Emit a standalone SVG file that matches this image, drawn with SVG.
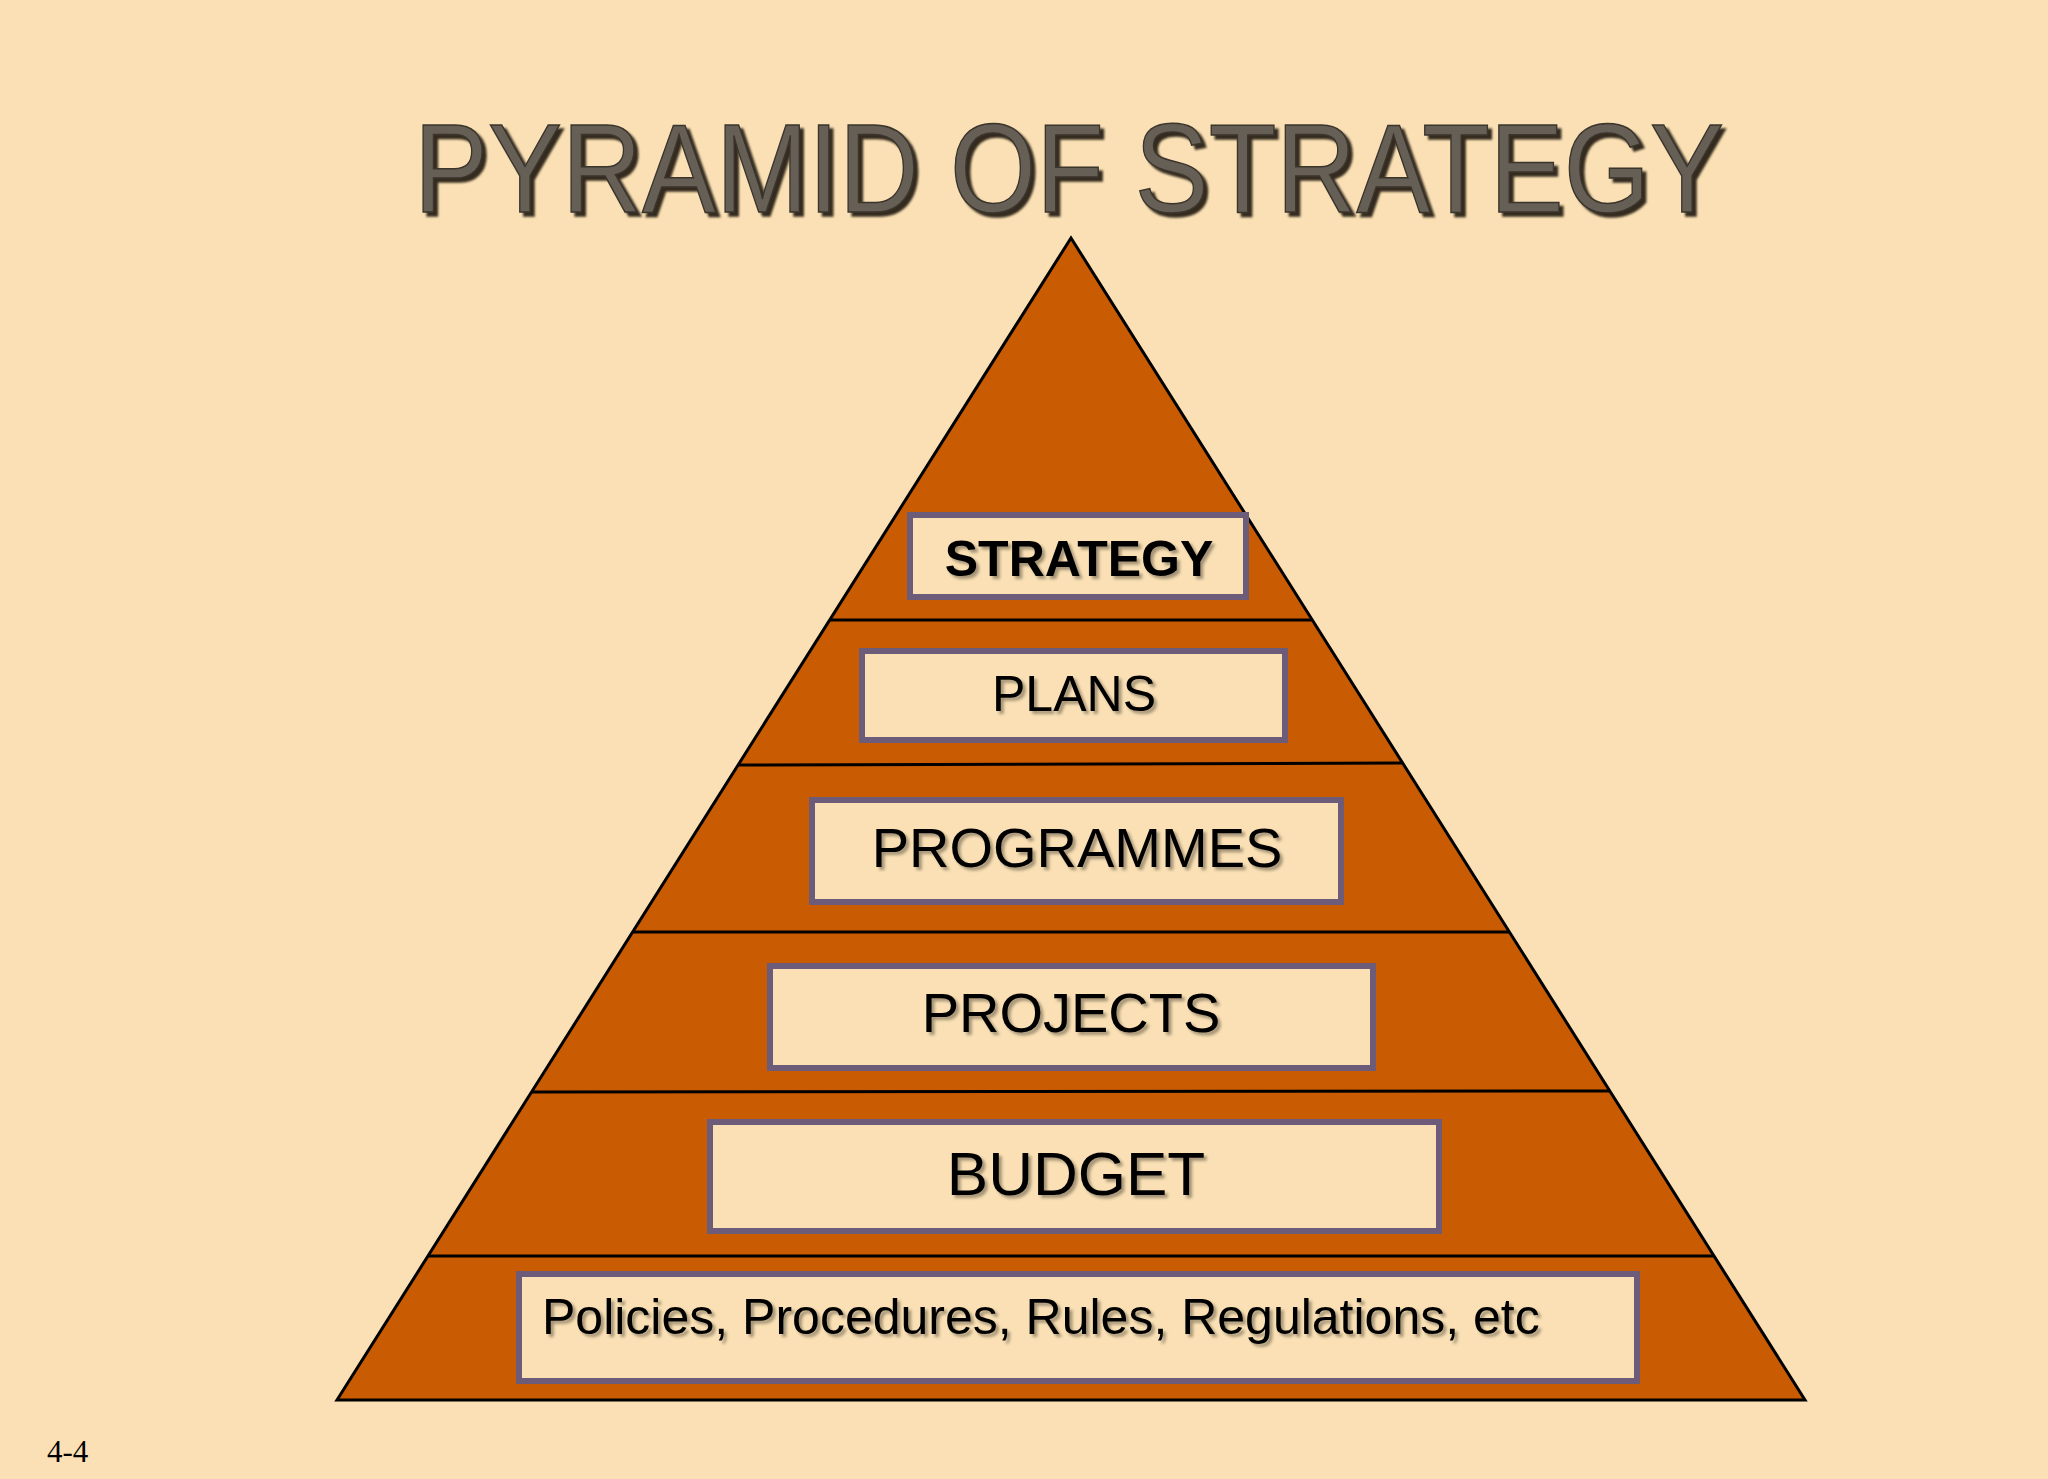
<svg xmlns="http://www.w3.org/2000/svg" width="2048" height="1479" viewBox="0 0 2048 1479">
  <style>
    .box { fill: #fae0b4; stroke: #6c5b79; stroke-width: 6; }
    .lbl { font-family: "Liberation Sans", Arial, sans-serif; fill: #000000; filter: url(#txtShadow); }
    .div { stroke: #000000; stroke-width: 3; fill: none; }
  </style>
  <defs>
    <filter id="txtShadow" x="-10%" y="-30%" width="120%" height="160%">
      <feDropShadow dx="3" dy="3" stdDeviation="1.5" flood-color="#000000" flood-opacity="0.35"/>
    </filter>
    <filter id="titleShadow" x="-5%" y="-20%" width="110%" height="150%">
      <feDropShadow dx="4" dy="4" stdDeviation="1.2" flood-color="#1a150f" flood-opacity="0.9"/>
    </filter>
  </defs>
  <rect x="0" y="0" width="2048" height="1479" fill="#fae0b4"/>

  <g id="title">
    <text x="414" y="212" font-family="'Liberation Sans', Arial, sans-serif" font-size="126" fill="#665f57" stroke="#3a342c" stroke-width="1.5" textLength="1310" lengthAdjust="spacingAndGlyphs" filter="url(#titleShadow)">PYRAMID OF STRATEGY</text>
  </g>

  <g id="pyramid">
    <polygon points="1071,238 1805,1400 337,1400" fill="#c95c02" stroke="#000000" stroke-width="3" stroke-linejoin="miter"/>
  </g>

  <g id="dividers">
    <line class="div" x1="830" y1="620" x2="1312" y2="620"/>
    <line class="div" x1="739" y1="765" x2="1403" y2="763"/>
    <line class="div" x1="633" y1="932" x2="1509" y2="932"/>
    <line class="div" x1="532" y1="1092" x2="1610" y2="1091"/>
    <line class="div" x1="428" y1="1256" x2="1714" y2="1256"/>
  </g>

  <g id="strategy">
    <rect class="box" x="910" y="515" width="336" height="82"/>
    <text class="lbl" x="1079" y="576" font-size="50" font-weight="bold" text-anchor="middle">STRATEGY</text>
  </g>

  <g id="plans">
    <rect class="box" x="862" y="651" width="423" height="89"/>
    <text class="lbl" x="1074" y="711" font-size="50" text-anchor="middle">PLANS</text>
  </g>

  <g id="programmes">
    <rect class="box" x="812" y="800" width="529" height="102"/>
    <text class="lbl" x="1077" y="867" font-size="56" text-anchor="middle">PROGRAMMES</text>
  </g>

  <g id="projects">
    <rect class="box" x="770" y="966" width="603" height="102"/>
    <text class="lbl" x="1071" y="1032" font-size="56" text-anchor="middle">PROJECTS</text>
  </g>

  <g id="budget">
    <rect class="box" x="710" y="1122" width="729" height="109"/>
    <text class="lbl" x="1076" y="1195" font-size="62" text-anchor="middle">BUDGET</text>
  </g>

  <g id="policies">
    <rect class="box" x="519" y="1274" width="1118" height="107"/>
    <text class="lbl" x="542" y="1334" font-size="50">Policies, Procedures, Rules, Regulations, etc</text>
  </g>

  <g id="slide-number">
    <text x="47" y="1462" font-family="'Liberation Serif', 'Times New Roman', serif" font-size="31" fill="#000000">4-4</text>
  </g>
</svg>
